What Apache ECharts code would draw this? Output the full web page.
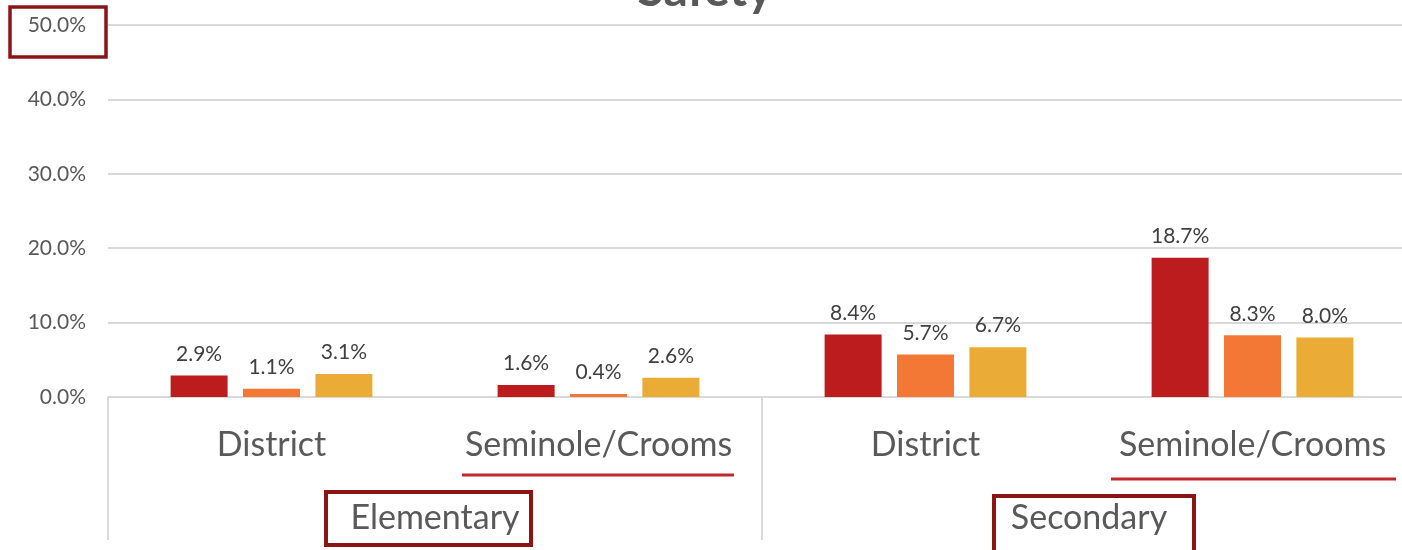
<!DOCTYPE html>
<html>
<head>
    <meta charset="UTF-8">
    <title>Safety</title>
    <script src="https://cdn.jsdelivr.net/npm/echarts@6/dist/echarts.min.js"></script>
    <style>
        html, body { margin: 0; background: #fff; overflow: hidden; }
        /* plot runs a little past the right edge of the window, as in the source */
        #chart { width: 1416px; height: 550px; }
    </style>
</head>
<body>
<div id="chart"></div>
<script type="text/javascript">
    // categories (two-level x axis)
    var schools = ['District', 'Seminole/Crooms', 'District', 'Seminole/Crooms'];
    var levels = ['Elementary', 'Secondary'];
    // series values, percent
    var seriesA = [2.9, 1.6, 8.4, 18.7];
    var seriesB = [1.1, 0.4, 5.7, 8.3];
    var seriesC = [3.1, 2.6, 6.7, 8.0];
    var yTicks = [0, 10, 20, 30, 40, 50];

    var colors = ['#bd1c1e', '#f47835', '#eaac36'];
    var font = 'Lato';

    var chart = echarts.init(document.getElementById('chart'));

    function barSeries(name, data, color) {
        return {
            name: name,
            type: 'bar',
            data: data,
            barWidth: 57,
            barGap: '27%',
            itemStyle: { color: color },
            label: {
                show: true,
                position: 'top',
                distance: 11,
                color: '#404040',
                fontFamily: font,
                fontSize: 21,
                formatter: function (p) { return p.value.toFixed(1) + '%'; }
            }
        };
    }

    var option = {
        animation: false,
        title: {
            text: 'Safety',
            left: 700,
            textAlign: 'center',
            top: -38,
            textStyle: { fontSize: 48, fontWeight: 'bold', color: '#595959', fontFamily: font }
        },
        grid: { left: 108, right: 0, top: 25, bottom: 153 },
        yAxis: {
            type: 'value',
            min: yTicks[0],
            max: yTicks[yTicks.length - 1],
            interval: 10,
            axisLine: { show: false },
            axisTick: { show: false },
            splitLine: { lineStyle: { color: '#d9d9d9', width: 2 } },
            axisLabel: {
                margin: 22,
                color: '#595959',
                fontFamily: font,
                fontSize: 21,
                formatter: function (v) { return v.toFixed(1) + '%'; }
            }
        },
        xAxis: [{
            type: 'category',
            data: schools,
            position: 'bottom',
            axisLine: { lineStyle: { color: '#d9d9d9', width: 2 } },
            axisTick: { show: false },
            axisLabel: { interval: 0, margin: 31, color: '#595959', fontFamily: font, fontSize: 34 }
        }, {
            type: 'category',
            data: levels,
            position: 'bottom',
            offset: 0,
            axisLine: { show: false },
            axisTick: { show: true, length: 143, lineStyle: { color: '#d9d9d9', width: 2 } },
            axisLabel: { interval: 0, margin: 104, color: '#595959', fontFamily: font, fontSize: 34 }
        }],
        series: [
            barSeries('Series 1', seriesA, colors[0]),
            barSeries('Series 2', seriesB, colors[1]),
            barSeries('Series 3', seriesC, colors[2])
        ],
        // annotation marks drawn over the chart
        graphic: [
            { type: 'rect', shape: { x: 10, y: 7, width: 96, height: 50 },
              style: { fill: 'none', stroke: '#8b1414', lineWidth: 3.5 } },
            { type: 'rect', shape: { x: 326, y: 492, width: 205, height: 53 },
              style: { fill: 'none', stroke: '#8b1414', lineWidth: 4 } },
            { type: 'rect', shape: { x: 994, y: 496, width: 200, height: 60 },
              style: { fill: 'none', stroke: '#8b1414', lineWidth: 4 } },
            { type: 'line', shape: { x1: 462, y1: 475, x2: 734, y2: 475 },
              style: { stroke: '#c0282b', lineWidth: 3 } },
            { type: 'line', shape: { x1: 1111, y1: 479, x2: 1396, y2: 479 },
              style: { stroke: '#c0282b', lineWidth: 3 } }
        ]
    };
    chart.setOption(option);
</script>
</body>
</html>
